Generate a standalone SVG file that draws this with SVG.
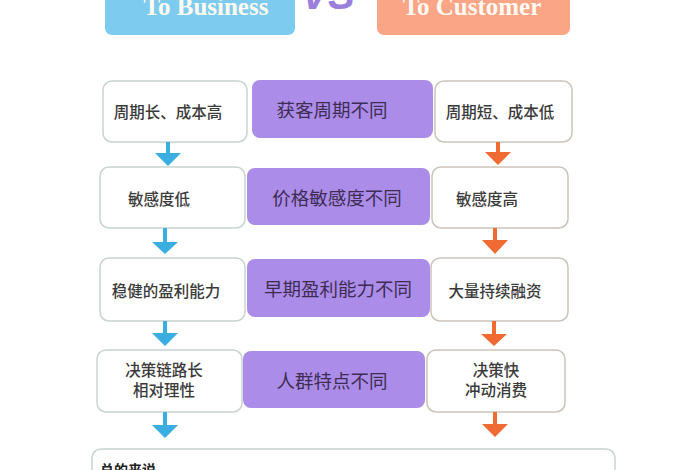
<svg xmlns="http://www.w3.org/2000/svg" width="700" height="470" viewBox="0 0 700 470">
<defs>
<style>
.hdr{font-family:"Liberation Serif","Times New Roman",serif;font-weight:bold;font-size:25px;fill:#fffaf2;text-anchor:middle}
.box{fill:#ffffff;stroke:#c9d3cf;stroke-width:1.5}
.boxr{fill:#ffffff;stroke:#cbc3ba;stroke-width:1.5}
.mid{fill:#ab8ce8}
.t{font-family:"Noto Sans CJK SC","Noto Sans",sans-serif;font-size:15.5px;font-weight:500;fill:#3a3a3a;text-anchor:middle;dominant-baseline:central}
.tm{font-family:"Noto Sans CJK SC","Noto Sans",sans-serif;font-size:18.5px;fill:#3e2c55;text-anchor:middle;dominant-baseline:central}
.ab{fill:#3aaee0}
.ao{fill:#f06a33}
</style>
</defs>
<rect width="700" height="470" fill="#ffffff"/>
<g id="header-b2b">
<rect x="105" y="-20" width="190" height="55" rx="7" fill="#7dcbee"/>
<text class="hdr" x="206" y="15">To Business</text>
</g>
<g id="header-vs">
<text x="328" y="9" font-family="Liberation Sans,Arial,sans-serif" font-weight="bold" font-style="italic" font-size="40" fill="#9a7fdc" text-anchor="middle">VS</text>
</g>
<g id="header-b2c">
<rect x="377" y="-20" width="193" height="55" rx="7" fill="#fba587"/>
<text class="hdr" x="472" y="15">To Customer</text>
</g>

<g id="l1"><rect class="box" x="103" y="81" width="144" height="61" rx="9"/><text class="t" x="168" y="111">周期长、成本高</text></g>
<g id="m1"><rect class="mid" x="252" y="80" width="181" height="58" rx="8"/><text class="tm" x="332" y="109">获客周期不同</text></g>
<g id="r1"><rect class="boxr" x="435" y="81" width="137" height="61" rx="9"/><text class="t" x="500" y="111">周期短、成本低</text></g>

<g id="l2"><rect class="box" x="100" y="167" width="145" height="61" rx="9"/><text class="t" x="159" y="198">敏感度低</text></g>
<g id="m2"><rect class="mid" x="247" y="168" width="183" height="57" rx="8"/><text class="tm" x="337" y="197">价格敏感度不同</text></g>
<g id="r2"><rect class="boxr" x="432" y="167" width="136" height="61" rx="9"/><text class="t" x="487" y="198">敏感度高</text></g>

<g id="l3"><rect class="box" x="100" y="258" width="145" height="63" rx="9"/><text class="t" x="166" y="290">稳健的盈利能力</text></g>
<g id="m3"><rect class="mid" x="247" y="259" width="183" height="58" rx="8"/><text class="tm" x="338" y="288">早期盈利能力不同</text></g>
<g id="r3"><rect class="boxr" x="431" y="258" width="137" height="63" rx="9"/><text class="t" x="495" y="290">大量持续融资</text></g>

<g id="l4"><rect class="box" x="97" y="350" width="145" height="62" rx="9"/><text class="t" x="164" y="369">决策链路长</text><text class="t" x="164" y="389">相对理性</text></g>
<g id="m4"><rect class="mid" x="243" y="351" width="182" height="57" rx="8"/><text class="tm" x="332" y="380">人群特点不同</text></g>
<g id="r4"><rect class="boxr" x="427" y="350" width="138" height="62" rx="9"/><text class="t" x="496" y="369">决策快</text><text class="t" x="496" y="389">冲动消费</text></g>

<g id="summary">
<rect class="box" x="92" y="449" width="523" height="40" rx="9" stroke="#bdbdbd"/>
<text x="100" y="475" font-family="Noto Sans CJK SC,Noto Sans,sans-serif" font-size="14" font-weight="bold" fill="#222">总的来说</text>
</g>

<g id="connectors">
<path class="ab" d="M166 142h4v11h11l-13 13l-13-13h11z"/>
<path class="ab" d="M163 228h4v14h11l-13 12l-13-12h11z"/>
<path class="ab" d="M163 321h4v12h11l-13 13l-13-13h11z"/>
<path class="ab" d="M163 412h4v13h11l-13 13l-13-13h11z"/>
<path class="ao" d="M496 142h4v10h11l-13 13l-13-13h11z"/>
<path class="ao" d="M493 228h4v12h11l-13 14l-13-14h11z"/>
<path class="ao" d="M492 321h4v13h11l-13 12l-13-12h11z"/>
<path class="ao" d="M493 412h4v12h11l-13 13l-13-13h11z"/>
</g>
</svg>
